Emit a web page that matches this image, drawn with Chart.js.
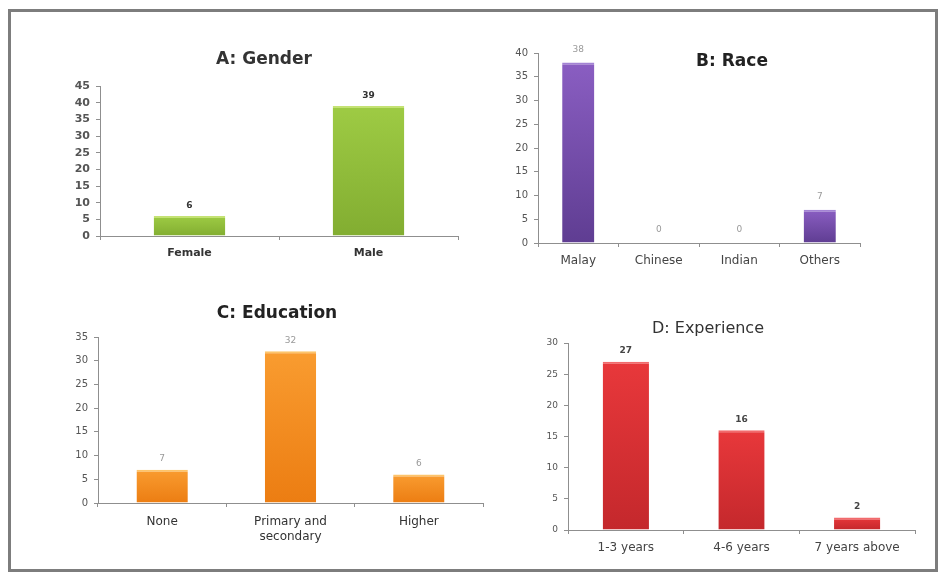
<!DOCTYPE html>
<html>
<head>
<meta charset="utf-8">
<script src="https://cdn.jsdelivr.net/npm/chart.js@4.4.1/dist/chart.umd.min.js"></script>
<style>
  html, body { margin: 0; padding: 0; background: #fff; width: 939px; height: 572px; overflow: hidden; }
  #frame { position: absolute; left: 8px; top: 9px; width: 924px; height: 557px; border: 3px solid #7d7d7d; }
  canvas { position: absolute; }
</style>
</head>
<body>
<div id="frame"></div>
<canvas id="gender" width="459" height="278" style="left:11px;top:12px"></canvas>
<canvas id="race" width="466" height="278" style="left:470px;top:12px"></canvas>
<canvas id="education" width="489" height="279" style="left:11px;top:290px"></canvas>
<canvas id="experience" width="436" height="279" style="left:500px;top:290px"></canvas>
<script>
// Respondent profile counts
const genderLabels = ['Female', 'Male'];
const genderCounts = [6, 39];

const raceLabels = ['Malay', 'Chinese', 'Indian', 'Others'];
const raceCounts = [38, 0, 0, 7];

const educationLabels = ['None', ['Primary and', 'secondary'], 'Higher'];
const educationCounts = [7, 32, 6];

const experienceLabels = ['1-3 years', '4-6 years', '7 years above'];
const experienceCounts = [27, 16, 2];

// Axis ranges (max, step) for each panel
const genderAxis = [45, 5];
const raceAxis = [40, 5];
const educationAxis = [35, 5];
const experienceAxis = [30, 5];

Chart.defaults.font.family = "'DejaVu Sans', Verdana, sans-serif";
Chart.defaults.animation = false;

// Panel heading drawn at a fixed spot on the canvas
const panelTitle = {
  id: 'panelTitle',
  afterDraw(chart, args, o) {
    const ctx = chart.ctx;
    ctx.save();
    ctx.font = o.font;
    ctx.fillStyle = o.color;
    ctx.textAlign = 'center';
    ctx.textBaseline = 'middle';
    ctx.fillText(o.text, o.x, o.y);
    ctx.restore();
  }
};

// Count printed above each bar
const barValues = {
  id: 'barValues',
  afterDatasetsDraw(chart, args, o) {
    const ctx = chart.ctx;
    const meta = chart.getDatasetMeta(0);
    const data = chart.data.datasets[0].data;
    ctx.save();
    ctx.font = o.font;
    ctx.fillStyle = o.color;
    ctx.textAlign = 'center';
    ctx.textBaseline = 'middle';
    meta.data.forEach((bar, i) => {
      ctx.fillText(String(data[i]), bar.x, bar.y - o.gap);
    });
    ctx.restore();
  }
};

// Vertical shading on each bar, lighter at the top
function barFill(light, dark) {
  return (c) => {
    const y = c.chart.scales.y;
    if (!y || c.type !== 'data') return dark;
    const top = y.getPixelForValue(c.raw);
    const bottom = y.getPixelForValue(0);
    if (!Number.isFinite(top) || !Number.isFinite(bottom) || bottom - top < 1) return dark;
    const g = c.chart.ctx.createLinearGradient(0, top, 0, bottom);
    g.addColorStop(0, light);
    g.addColorStop(1, dark);
    return g;
  };
}

function panel(id, p) {
  const axisColor = '#8f8f8f';
  return new Chart(document.getElementById(id), {
    type: 'bar',
    data: {
      labels: p.labels,
      datasets: [{
        data: p.values,
        backgroundColor: barFill(p.light, p.dark),
        borderColor: p.edge,
        borderWidth: { top: 2, left: 0, right: 0, bottom: 0 },
        borderSkipped: 'start',
        barPercentage: 0.4,
        categoryPercentage: 1
      }]
    },
    options: {
      responsive: false,
      layout: { autoPadding: false, padding: p.pad },
      plugins: {
        legend: { display: false },
        tooltip: { enabled: false },
        title: { display: false },
        panelTitle: p.title,
        barValues: p.valueStyle
      },
      scales: {
        x: {
          grid: { offset: true, drawOnChartArea: false, drawTicks: true, tickLength: 4, color: axisColor },
          border: { display: true, color: axisColor, width: 1 },
          ticks: { padding: 7, color: p.catColor, font: p.catFont },
          afterFit: (s) => { s.height = p.xh; }
        },
        y: {
          min: 0,
          max: p.axis[0],
          ticks: { stepSize: p.axis[1], padding: 6, color: p.tickColor, font: p.tickFont },
          grid: { drawOnChartArea: false, drawTicks: true, tickLength: 4, color: axisColor },
          border: { display: true, color: axisColor, width: 1 },
          afterFit: (s) => { s.width = p.yw; }
        }
      }
    },
    plugins: [panelTitle, barValues]
  });
}

panel('gender', {
  labels: genderLabels, values: genderCounts, axis: genderAxis,
  light: '#9ecb44', dark: '#82ad31', edge: '#c4e274',
  pad: { left: 0, right: 12, top: 74, bottom: 24 }, yw: 89, xh: 30,
  tickFont: { size: 11, weight: 'bold' }, tickColor: '#555',
  catFont: { size: 11, weight: 'bold' }, catColor: '#333',
  title: { text: 'A: Gender', x: 253, y: 48, font: 'bold 17px "DejaVu Sans"', color: '#333' },
  valueStyle: { font: 'bold 9px "DejaVu Sans"', color: '#333', gap: 10 }
});

panel('race', {
  labels: raceLabels, values: raceCounts, axis: raceAxis,
  light: '#8a5ec2', dark: '#5f3d92', edge: '#a383d4',
  pad: { left: 0, right: 76, top: 41, bottom: 17 }, yw: 68, xh: 30,
  tickFont: { size: 10 }, tickColor: '#555',
  catFont: { size: 12 }, catColor: '#444',
  title: { text: 'B: Race', x: 262, y: 50, font: 'bold 17px "DejaVu Sans"', color: '#222' },
  valueStyle: { font: '9px "DejaVu Sans"', color: '#999', gap: 13 }
});

panel('education', {
  labels: educationLabels, values: educationCounts, axis: educationAxis,
  light: '#f99c30', dark: '#ec7d12', edge: '#fdc46a',
  pad: { left: 0, right: 17, top: 47, bottom: 26 }, yw: 87, xh: 40,
  tickFont: { size: 10 }, tickColor: '#555',
  catFont: { size: 12, lineHeight: 1.25 }, catColor: '#333',
  title: { text: 'C: Education', x: 266, y: 24, font: 'bold 17px "DejaVu Sans"', color: '#222' },
  valueStyle: { font: '9px "DejaVu Sans"', color: '#999', gap: 11 }
});

panel('experience', {
  labels: experienceLabels, values: experienceCounts, axis: experienceAxis,
  light: '#e8383b', dark: '#c4282c', edge: '#f26a6c',
  pad: { left: 0, right: 21, top: 53, bottom: 9 }, yw: 68, xh: 30,
  tickFont: { size: 9 }, tickColor: '#555',
  catFont: { size: 12 }, catColor: '#444',
  title: { text: 'D: Experience', x: 208, y: 39, font: '16px "DejaVu Sans"', color: '#333' },
  valueStyle: { font: 'bold 9px "DejaVu Sans"', color: '#444', gap: 11 }
});
</script>
</body>
</html>
